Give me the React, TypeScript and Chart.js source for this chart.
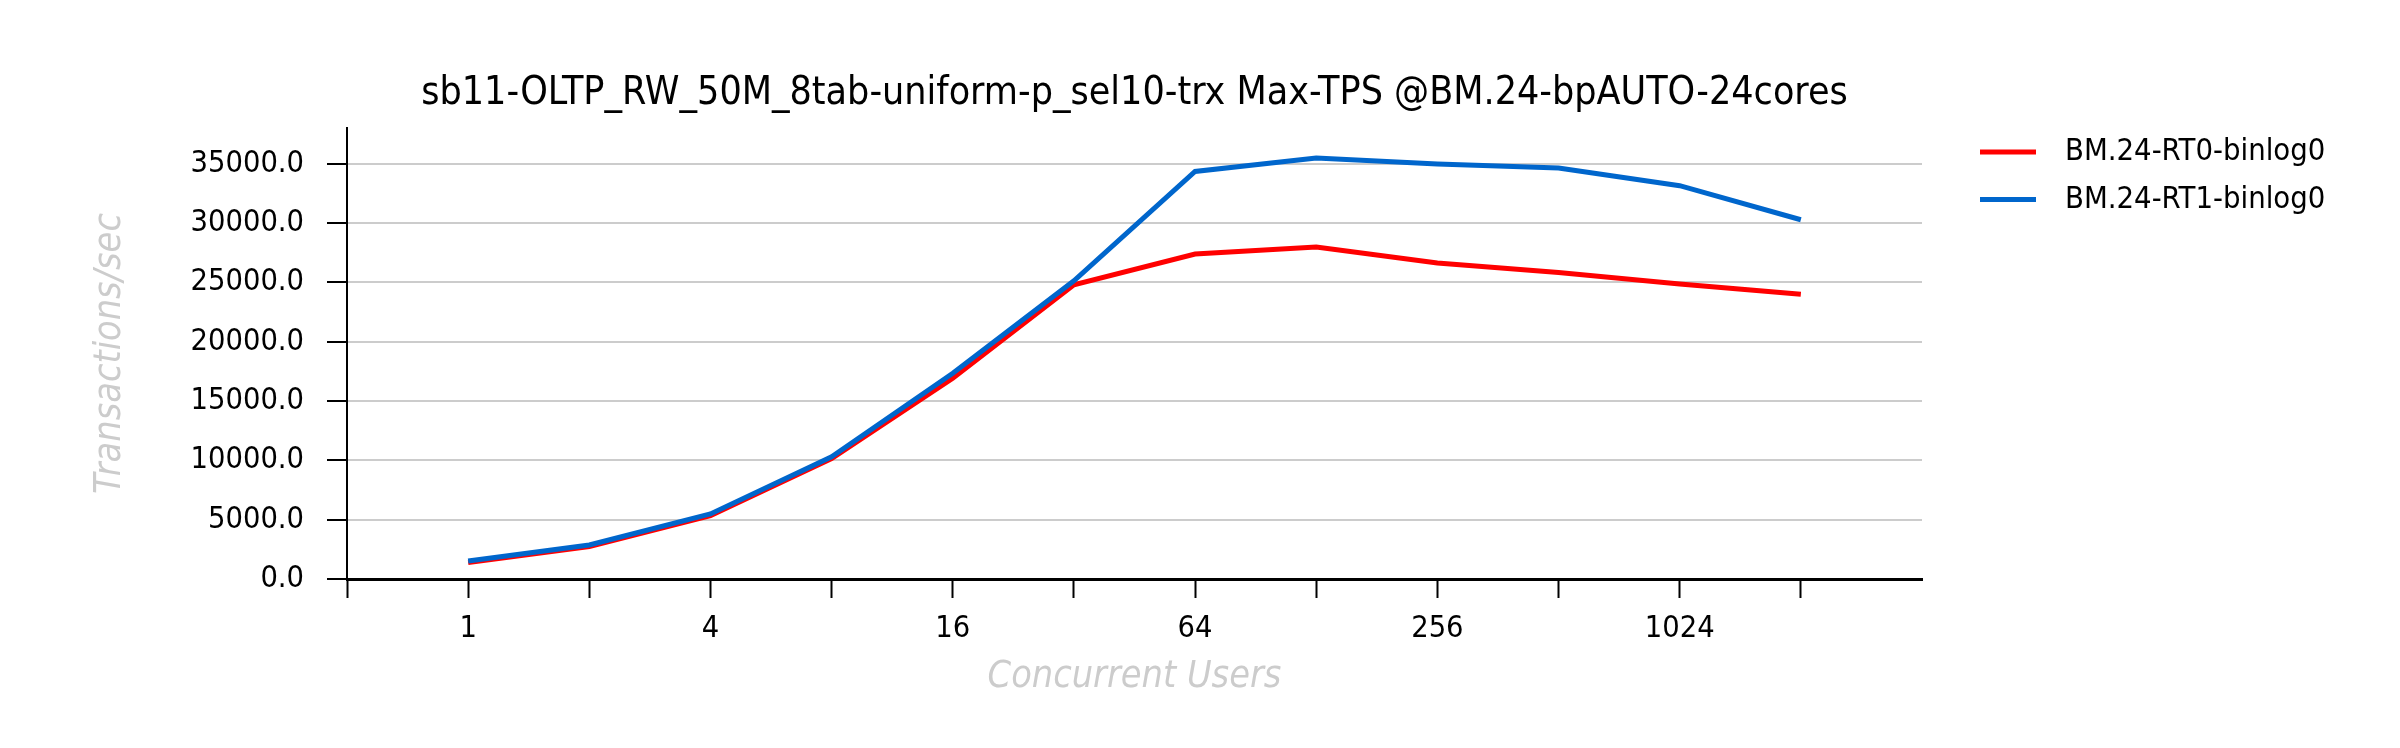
import React, { useEffect, useRef } from "react";
import { Chart, registerables } from "chart.js";

Chart.register(...registerables);

const TITLE = "sb11-OLTP_RW_50M_8tab-uniform-p_sel10-trx Max-TPS @BM.24-bpAUTO-24cores";
const X_TITLE = "Concurrent Users";
const Y_TITLE = "Transactions/sec";

const users = [1, 2, 4, 8, 16, 32, 64, 128, 256, 512, 1024, 2048];
const xTickValues = [0.5, 1, 2, 4, 8, 16, 32, 64, 128, 256, 512, 1024, 2048];
const xLabelValues = [1, 4, 16, 64, 256, 1024];
const yTickValues = [0, 5000, 10000, 15000, 20000, 25000, 30000, 35000];

const seriesNames = ["BM.24-RT0-binlog0", "BM.24-RT1-binlog0"];
const seriesColors = ["#ff0000", "#0066cc"];
const rt0 = [1380, 2730, 5340, 10150, 16920, 24790, 27380, 27970, 26620, 25830, 24850, 24000];
const rt1 = [1520, 2870, 5480, 10300, 17340, 25130, 34340, 35470, 34970, 34630, 33140, 30270];
const seriesValues = [rt0, rt1];

const FONT = "'DejaVu Sans Condensed', 'DejaVu Sans', sans-serif";

const overlayPlugin = {
  id: "overlay",
  afterDraw(chart: any) {
    const { ctx, chartArea } = chart;
    ctx.save();
    // title
    ctx.fillStyle = "#000";
    ctx.font = `39px ${FONT}`;
    ctx.textAlign = "center";
    ctx.textBaseline = "alphabetic";
    ctx.fillText(TITLE, (chartArea.left + chartArea.right) / 2, 104);
    // legend
    ctx.font = `30.7px ${FONT}`;
    ctx.textAlign = "left";
    ctx.textBaseline = "middle";
    seriesNames.forEach((name, i) => {
      const y = 152 + i * 47.6;
      ctx.strokeStyle = seriesColors[i];
      ctx.lineWidth = 5;
      ctx.beginPath();
      ctx.moveTo(1980, y);
      ctx.lineTo(2036, y);
      ctx.stroke();
      ctx.fillStyle = "#000";
      ctx.fillText(name, 2065, y);
    });
    ctx.restore();
  },
};

export default function App() {
  const ref = useRef<HTMLCanvasElement>(null);
  useEffect(() => {
    const canvas = ref.current!;
    const chart = new Chart(canvas, {
      type: "line",
      data: {
        datasets: seriesNames.map((name, i) => ({
          label: name,
          data: users.map((u, j) => ({ x: u, y: seriesValues[i][j] })),
          borderColor: seriesColors[i],
          backgroundColor: seriesColors[i],
          borderWidth: 5,
          pointRadius: 0,
          tension: 0,
          fill: false,
          order: 2 - i,
        })),
      },
      options: {
        responsive: false,
        animation: false,
        layout: { padding: { top: 128, right: 478, left: 0, bottom: 0 } },
        plugins: {
          legend: { display: false },
          title: { display: false },
          tooltip: { enabled: false },
        },
        scales: {
          x: {
            type: "logarithmic",
            min: 0.5,
            max: 4096,
            afterBuildTicks: (scale: any) => {
              scale.ticks = xTickValues.map((v) => ({ value: v }));
            },
            afterFit: (scale: any) => {
              scale.height = 169;
            },
            ticks: {
              autoSkip: false,
              maxRotation: 0,
              padding: 13,
              color: "#000",
              font: { family: FONT, size: 30.5 },
              callback: (v: any) => (xLabelValues.includes(Number(v)) ? String(v) : ""),
            },
            grid: {
              drawOnChartArea: false,
              drawTicks: true,
              tickLength: 19,
              tickColor: "#000",
              tickWidth: 2,
            },
            border: { display: true, color: "#000", width: 3 },
            title: {
              display: true,
              text: X_TITLE,
              color: "#cccccc",
              font: { family: FONT, size: 37.5, style: "italic" },
              padding: { top: 0, bottom: 48 },
            },
          },
          y: {
            type: "linear",
            min: 0,
            max: 38000,
            afterBuildTicks: (scale: any) => {
              scale.ticks = yTickValues.map((v) => ({ value: v }));
            },
            afterFit: (scale: any) => {
              scale.width = 347;
            },
            ticks: {
              padding: 23,
              color: "#000",
              font: { family: FONT, size: 30.5 },
              callback: (v: any) => Number(v).toFixed(1),
            },
            grid: {
              color: "#cccccc",
              lineWidth: 2,
              drawTicks: true,
              tickLength: 20,
              tickColor: "#000",
              tickWidth: 2,
            },
            border: { display: true, color: "#000", width: 2 },
            title: {
              display: true,
              text: Y_TITLE,
              color: "#cccccc",
              font: { family: FONT, size: 37.5, style: "italic" },
              padding: { top: 88, bottom: 0 },
            },
          },
        },
      },
      plugins: [overlayPlugin],
    });
    return () => chart.destroy();
  }, []);
  return (
    <div style={{ position: "absolute", left: 0, top: 0, width: 2400, height: 748, background: "#fff" }}>
      <canvas ref={ref} width={2400} height={748} />
    </div>
  );
}
